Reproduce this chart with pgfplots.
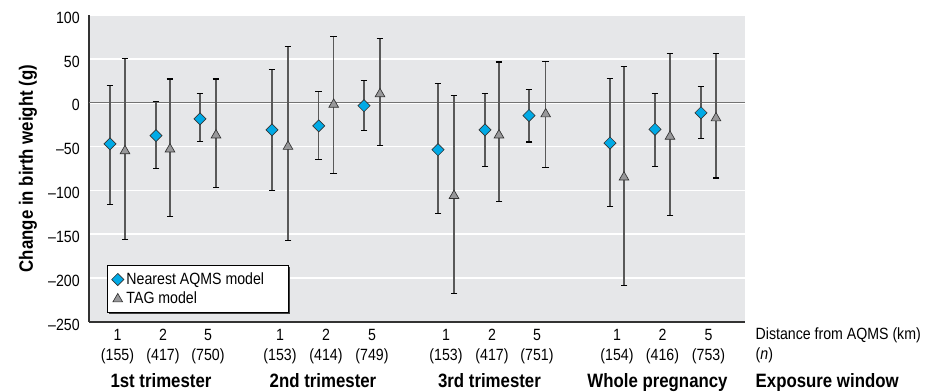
\documentclass[border=0pt]{standalone}
\usepackage{fontspec}
\setmainfont{Liberation Sans}[FakeStretch=0.87]
\usepackage{pgfplots}
\usepackage{pgfplotstable}
\pgfplotsset{compat=1.18}
\usetikzlibrary{shadows}
\definecolor{bgc}{RGB}{230,231,233}
\definecolor{diam}{RGB}{0,170,230}
\definecolor{trig}{RGB}{152,152,154}

\pgfplotstableread{
x     y      lo      hi
110   -47    -115.7  20
156   -37.5  -75     1.5
200   -18.4  -44     10
272   -31    -100    37.5
318.7 -26.4  -65     12.6
364   -3.4   -32     25
438   -53.6  -126.4  21.5
485   -31    -73     10.3
529   -14.6  -44.8   15.3
610   -46    -118    27.6
655   -30.3  -72.4   10.7
701   -11.5  -40.6   18.8
}\aqms

\pgfplotstableread{
x     y      lo      hi
125   -55    -155.5  50.6
170   -53    -129.5  27
216   -37    -96.5   27
288   -50    -157.5  64
333.7 -2     -81     76
380   10     -49     73
454   -106   -217    7.7
499   -37    -113    46.4
545.7 -13    -74     47
624   -85    -208.4  41.8
670   -38.5  -128.7  55.6
716   -17.5  -85.8   55.6
}\tag

\begin{document}
\fontsize{12.2}{15}\selectfont
\begin{tikzpicture}
\path[use as bounding box] (-66.75pt,-52.5pt) rectangle (627.75pt,241.5pt);
\begin{axis}[
  at={(0,0)}, anchor=south west,
  scale only axis, width=492pt, height=230.25pt,
  xmin=89, xmax=745, ymin=-250, ymax=100,
  axis background/.style={fill=bgc},
  axis x line*=bottom, axis y line*=left,
  axis line style={-, line width=1.1pt, black!80},
  ytick={-250,-200,...,100},
  yticklabels={–250,–200,–150,–100,–50,0,50,100},
  ymajorgrids, grid style={white, line width=1.2pt},
  major tick length=0pt,
  xtick={117.5,163,208,280,326,372,446,492,537,617,662.5,708.5},
  xticklabels={1\\(155),2\\(417),5\\(750),1\\(153),2\\(414),5\\(749),1\\(153),2\\(417),5\\(751),1\\(154),2\\(416),5\\(753)},
  xticklabel style={align=center, anchor=north, inner sep=0pt, yshift=-5.5pt},
  yticklabel style={anchor=east, inner sep=0pt, xshift=-6.75pt, yshift=-2pt},
  legend style={at={(axis cs:107,-185.4)}, anchor=north west, draw=black, line width=0.6pt, fill=white,
    drop shadow={shadow xshift=1.1pt, shadow yshift=-1.1pt, fill=black!75, opacity=1},
    inner xsep=3.25pt, inner ysep=3pt, row sep=0pt,
    nodes={inner sep=2pt},
    /tikz/every even column/.append style={column sep=4.25pt}},
  legend cell align=left,
  legend image code/.code={\draw[#1] plot coordinates {(0pt,0pt)};},
  clip=false,
]
\addplot[forget plot, line width=1.1pt, black!55] coordinates {(89,0) (745,0)};

\addplot[only marks, mark=square*, mark size=3.2pt,
  mark options={rotate=45, fill=diam, draw=black!80, line width=0.5pt},
  error bars/.cd, y dir=both, y explicit,
  error bar style={line width=0.8pt, black!65},
  error mark options={rotate=90, mark size=2.6pt, line width=0.8pt, black}]
  table[x=x, y=y, y error plus expr=\thisrow{hi}-\thisrow{y}, y error minus expr=\thisrow{y}-\thisrow{lo}] {\aqms};
\addlegendentry{Nearest AQMS model\hspace*{13pt}\mbox{}}

\addplot[only marks, mark=triangle*, mark size=4.2pt,
  mark options={fill=trig, draw=black!80, line width=0.5pt},
  error bars/.cd, y dir=both, y explicit,
  error bar style={line width=0.8pt, black!65},
  error mark options={rotate=90, mark size=2.6pt, line width=0.8pt, black}]
  table[x=x, y=y, y error plus expr=\thisrow{hi}-\thisrow{y}, y error minus expr=\thisrow{y}-\thisrow{lo}] {\tag};
\addlegendentry{TAG model}

\node[rotate=90, font=\fontsize{14.5}{17}\selectfont\bfseries] at ([xshift=-45.75pt]rel axis cs:0,0.5) {Change in birth weight (g)};

\node[anchor=base west, xshift=3.75pt, yshift=-13.5pt] at (axis cs:745,-250) {Distance from AQMS (km)};
\node[anchor=base west, xshift=3.75pt, yshift=-28.5pt] at (axis cs:745,-250) {(\textit{n})};
\node[anchor=base west, xshift=3.75pt, yshift=-49.5pt, font=\fontsize{14.5}{17}\selectfont\bfseries] at (axis cs:745,-250) {Exposure window};
\node[anchor=base, yshift=-49.5pt, font=\fontsize{14.5}{17}\selectfont\bfseries] at (axis cs:161,-250) {1st trimester};
\node[anchor=base, yshift=-49.5pt, font=\fontsize{14.5}{17}\selectfont\bfseries] at (axis cs:323,-250) {2nd trimester};
\node[anchor=base, yshift=-49.5pt, font=\fontsize{14.5}{17}\selectfont\bfseries] at (axis cs:489.5,-250) {3rd trimester};
\node[anchor=base, yshift=-49.5pt, font=\fontsize{14.5}{17}\selectfont\bfseries] at (axis cs:657.5,-250) {Whole pregnancy};
\end{axis}
\end{tikzpicture}
\end{document}
